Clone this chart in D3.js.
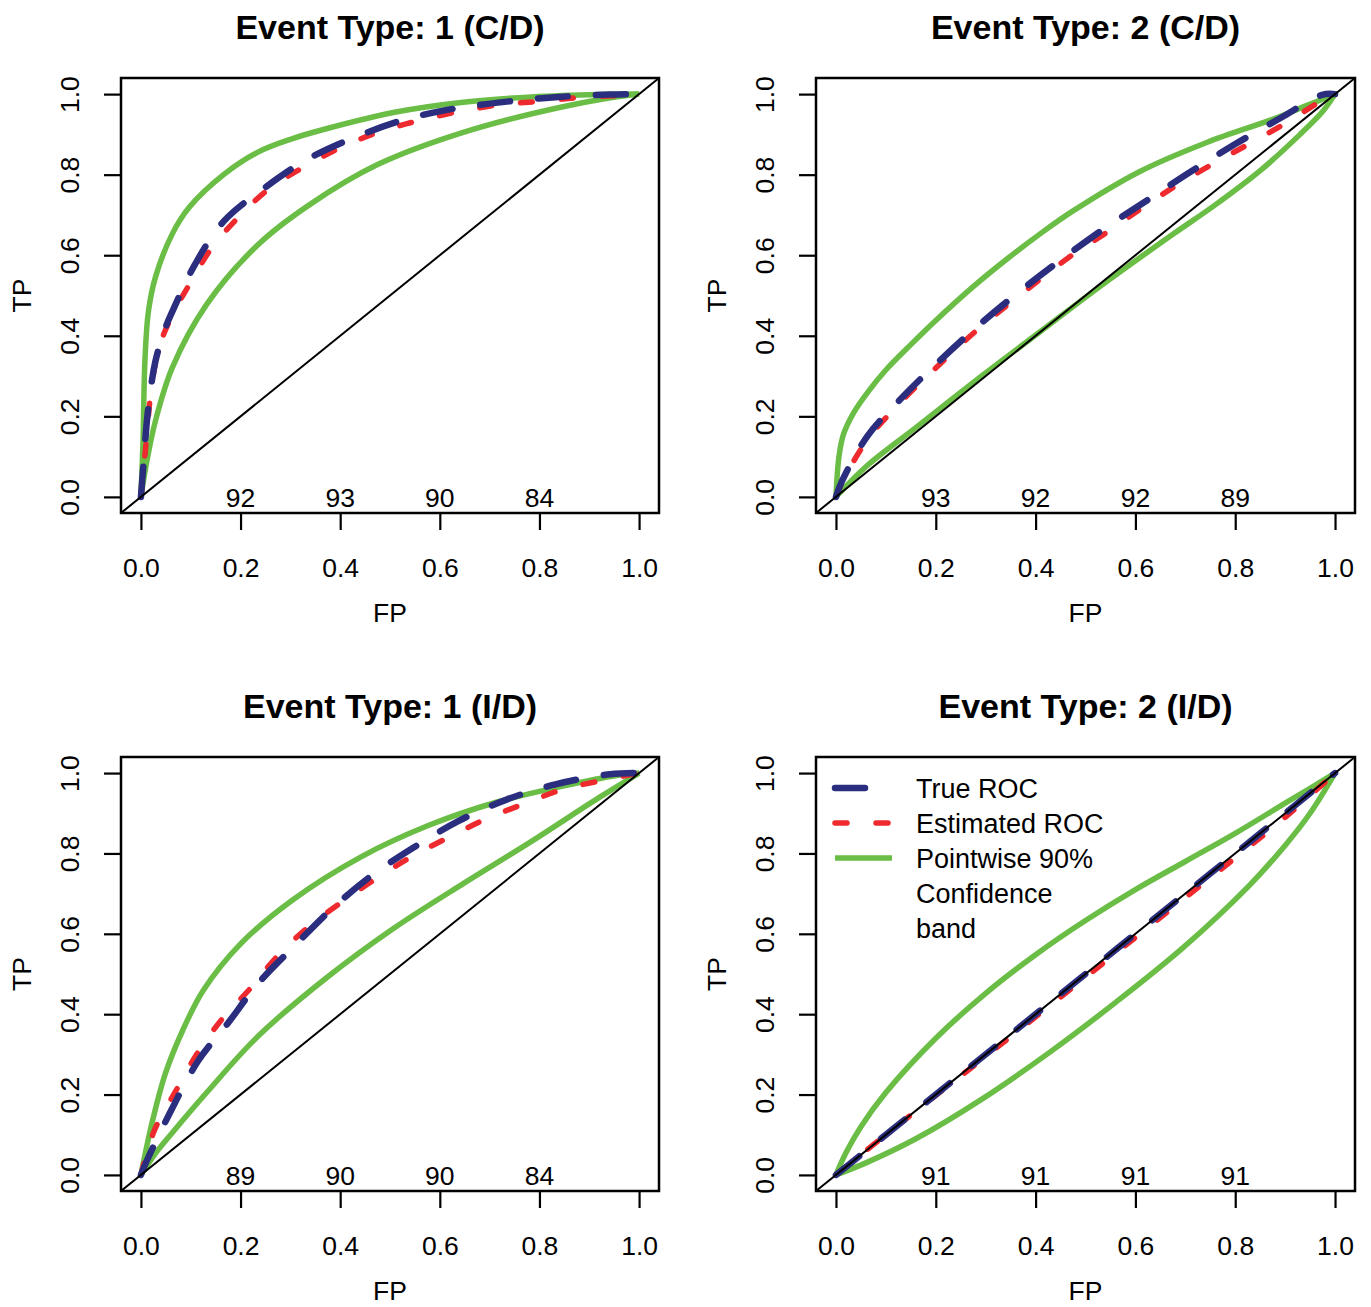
<!DOCTYPE html>
<html>
<head>
<meta charset="utf-8">
<script src="https://cdn.jsdelivr.net/npm/d3@7"></script>
<style>
  body { margin: 0; background: #fff; }
  text { font-family: "Liberation Sans", Arial, Helvetica, sans-serif; fill: #000; }
</style>
</head>
<body>
<script>

// ---- data ----
var titles = ["Event Type: 1 (C/D)", "Event Type: 2 (C/D)", "Event Type: 1 (I/D)", "Event Type: 2 (I/D)"];
var fpTicks = [0, 0.2, 0.4, 0.6, 0.8, 1.0];
var tpTicks = [0, 0.2, 0.4, 0.6, 0.8, 1.0];
var coverageAt = [0.2, 0.4, 0.6, 0.8];
var coverage1 = [92, 93, 90, 84];
var coverage2 = [93, 92, 92, 89];
var coverage3 = [89, 90, 90, 84];
var coverage4 = [91, 91, 91, 91];

// [FP, TP] pairs
var true1 = [[0,0],[0.005,0.079],[0.014,0.212],[0.029,0.336],[0.049,0.419],[0.063,0.46],[0.108,0.576],[0.166,0.684],[0.248,0.767],[0.338,0.841],[0.434,0.895],[0.53,0.937],[0.629,0.964],[0.739,0.982],[0.839,0.993],[0.942,0.999],[1,1]];
var est1 = [[0,0],[0.01,0.129],[0.021,0.27],[0.036,0.369],[0.063,0.452],[0.097,0.527],[0.142,0.618],[0.194,0.692],[0.255,0.763],[0.324,0.817],[0.399,0.866],[0.478,0.906],[0.557,0.934],[0.64,0.957],[0.722,0.974],[0.801,0.982],[0.887,0.992],[0.969,0.997],[1,1]];
var upper1 = [[0,0],[0.004,0.13],[0.008,0.337],[0.015,0.46],[0.029,0.545],[0.063,0.653],[0.097,0.719],[0.166,0.8],[0.235,0.856],[0.303,0.889],[0.372,0.914],[0.509,0.955],[0.647,0.98],[0.784,0.993],[0.921,0.999],[1,1]];
var lower1 = [[0,0],[0.012,0.089],[0.029,0.188],[0.063,0.321],[0.132,0.478],[0.235,0.626],[0.338,0.725],[0.475,0.825],[0.647,0.905],[0.852,0.97],[0.99,0.999],[1,1]];

var true2 = [[0,0],[0.012,0.039],[0.063,0.151],[0.132,0.246],[0.2,0.329],[0.285,0.425],[0.365,0.507],[0.449,0.587],[0.535,0.664],[0.623,0.736],[0.709,0.806],[0.8,0.876],[0.89,0.94],[0.974,0.998],[1,1]];
var est2 = [[0,0],[0.012,0.035],[0.063,0.142],[0.132,0.238],[0.2,0.32],[0.277,0.408],[0.342,0.475],[0.409,0.54],[0.475,0.602],[0.543,0.657],[0.615,0.719],[0.683,0.774],[0.757,0.828],[0.83,0.878],[0.904,0.93],[0.968,0.98],[1,1]];
var upper2 = [[0,0],[0.006,0.1],[0.015,0.155],[0.035,0.208],[0.065,0.262],[0.1,0.315],[0.15,0.378],[0.2,0.438],[0.275,0.522],[0.342,0.59],[0.409,0.653],[0.475,0.71],[0.609,0.808],[0.743,0.88],[0.876,0.938],[0.944,0.972],[1,1]];
var lower2 = [[0,0],[0.06,0.075],[0.16,0.172],[0.294,0.302],[0.409,0.41],[0.543,0.535],[0.675,0.652],[0.76,0.725],[0.85,0.81],[0.93,0.9],[0.976,0.958],[1,1]];

var true3 = [[0,0],[0.012,0.036],[0.058,0.154],[0.115,0.284],[0.173,0.375],[0.235,0.476],[0.309,0.571],[0.384,0.663],[0.463,0.745],[0.549,0.816],[0.638,0.881],[0.734,0.934],[0.832,0.972],[0.942,0.997],[1,1]];
var est3 = [[0,0],[0.027,0.111],[0.07,0.209],[0.113,0.302],[0.161,0.385],[0.218,0.462],[0.275,0.546],[0.338,0.619],[0.401,0.677],[0.469,0.735],[0.542,0.791],[0.619,0.841],[0.693,0.886],[0.77,0.924],[0.846,0.959],[0.927,0.982],[1,1]];
var upper3 = [[0,0],[0.022,0.128],[0.049,0.252],[0.084,0.36],[0.125,0.459],[0.2,0.575],[0.303,0.683],[0.441,0.791],[0.578,0.87],[0.715,0.928],[0.852,0.969],[0.955,0.994],[1,1]];
var lower3 = [[0,0],[0.03,0.055],[0.063,0.105],[0.132,0.205],[0.235,0.345],[0.372,0.49],[0.509,0.615],[0.647,0.725],[0.784,0.83],[0.921,0.94],[1,1]];

var true4 = [[0,0],[0.25,0.25],[0.5,0.5],[0.75,0.75],[1,1]];
var est4 = [[0,0],[0.1,0.1],[0.3,0.295],[0.5,0.492],[0.7,0.69],[0.9,0.89],[1,1]];
var upper4 = [[0,0],[0.02,0.055],[0.05,0.12],[0.1,0.205],[0.2,0.34],[0.3,0.452],[0.4,0.548],[0.5,0.633],[0.6,0.71],[0.7,0.78],[0.8,0.85],[0.9,0.925],[0.95,0.962],[1,1]];
var lower4 = [[0,0],[0.06,0.03],[0.16,0.09],[0.294,0.19],[0.428,0.305],[0.561,0.43],[0.695,0.565],[0.828,0.72],[0.9,0.82],[0.95,0.9],[1,1]];

var legendLabels = ["True ROC", "Estimated ROC", "Pointwise 90%", "Confidence", "band"];

// ---- drawing ----
var green = "#6abd45", navy = "#2b2e7e", red = "#ee2a2e";
var trueDash = "30,28", estDash = "12,29";

var svg = d3.select("body").append("svg")
  .attr("width", 1371)
  .attr("height", 1307);

var panels = [
  { left: 121, top: 78,  w: 538, h: 435, title: titles[0], cov: coverage1, tr: true1, est: est1, up: upper1, lo: lower1 },
  { left: 816, top: 78,  w: 539, h: 435, title: titles[1], cov: coverage2, tr: true2, est: est2, up: upper2, lo: lower2 },
  { left: 121, top: 757, w: 538, h: 434, title: titles[2], cov: coverage3, tr: true3, est: est3, up: upper3, lo: lower3 },
  { left: 816, top: 757, w: 539, h: 434, title: titles[3], cov: coverage4, tr: true4, est: est4, up: upper4, lo: lower4 }
];

panels.forEach(function(p, i) {
  var x = d3.scaleLinear().domain([-0.04, 1.04]).range([p.left, p.left + p.w]);
  var y = d3.scaleLinear().domain([-0.04, 1.04]).range([p.top + p.h, p.top]);
  var g = svg.append("g");

  var line = d3.line()
    .x(function(d) { return x(d[0]); })
    .y(function(d) { return y(d[1]); })
    .curve(d3.curveCatmullRom.alpha(0.5));

  // band
  [p.up, p.lo].forEach(function(s) {
    g.append("path").attr("d", line(s))
      .attr("fill", "none").attr("stroke", green).attr("stroke-width", 5.5);
  });
  // estimated
  g.append("path").attr("d", line(p.est))
    .attr("fill", "none").attr("stroke", red).attr("stroke-width", 5.5)
    .attr("stroke-linecap", "round").attr("stroke-dasharray", estDash);
  // true
  g.append("path").attr("d", line(p.tr))
    .attr("fill", "none").attr("stroke", navy).attr("stroke-width", 6.5)
    .attr("stroke-linecap", "round").attr("stroke-dasharray", trueDash);

  // diagonal
  g.append("line")
    .attr("x1", x(-0.04)).attr("y1", y(-0.04))
    .attr("x2", x(1.04)).attr("y2", y(1.04))
    .attr("stroke", "#000").attr("stroke-width", 2);

  // box
  g.append("rect")
    .attr("x", p.left).attr("y", p.top).attr("width", p.w).attr("height", p.h)
    .attr("fill", "none").attr("stroke", "#000").attr("stroke-width", 2.5);

  // x axis
  var xa = g.append("g")
    .attr("transform", "translate(0," + (p.top + p.h) + ")")
    .call(d3.axisBottom(x).tickValues(fpTicks).tickSize(17).tickPadding(28).tickFormat(d3.format(".1f")));
  xa.select(".domain").remove();
  xa.selectAll("line").attr("stroke-width", 2.2);
  xa.selectAll("text").attr("font-size", 26.5).attr("font-family", null);

  // y axis
  var ya = g.append("g")
    .attr("transform", "translate(" + p.left + ",0)")
    .call(d3.axisLeft(y).tickValues(tpTicks).tickSize(17).tickFormat(d3.format(".1f")));
  ya.select(".domain").remove();
  ya.selectAll("line").attr("stroke-width", 2.2);
  ya.selectAll("text")
    .attr("font-size", 26.5).attr("font-family", null)
    .attr("x", null).attr("dy", null)
    .attr("text-anchor", "middle")
    .attr("transform", "translate(-42,0) rotate(-90)");

  // coverage numbers
  g.selectAll(".cov").data(coverageAt).enter().append("text")
    .attr("x", function(d) { return x(d); })
    .attr("y", y(0) + 10)
    .attr("text-anchor", "middle")
    .attr("font-size", 26.5)
    .text(function(d, k) { return p.cov[k]; });

  // title and axis labels
  g.append("text")
    .attr("x", p.left + p.w / 2).attr("y", p.top - 39)
    .attr("text-anchor", "middle")
    .attr("font-size", 34).attr("font-weight", "bold")
    .text(p.title);
  g.append("text")
    .attr("x", x(0.5)).attr("y", p.top + p.h + 109)
    .attr("text-anchor", "middle").attr("font-size", 26.5)
    .text("FP");
  g.append("text")
    .attr("transform", "translate(" + (p.left - 90) + "," + y(0.5) + ") rotate(-90)")
    .attr("text-anchor", "middle").attr("font-size", 26.5)
    .text("TP");

  // legend in last panel
  if (i === 3) {
    var lx = p.left + 19, ly = p.top + 31;
    var styles = [
      { c: navy, w: 6.5, dash: trueDash },
      { c: red, w: 5.5, dash: estDash },
      { c: green, w: 5.5, dash: null }
    ];
    styles.forEach(function(s, k) {
      g.append("line")
        .attr("x1", lx).attr("x2", lx + 57)
        .attr("y1", ly + k * 35).attr("y2", ly + k * 35)
        .attr("stroke", s.c).attr("stroke-width", s.w)
        .attr("stroke-linecap", s.dash ? "round" : "butt")
        .attr("stroke-dasharray", s.dash);
    });
    g.selectAll(".leg").data(legendLabels).enter().append("text")
      .attr("x", lx + 81)
      .attr("y", function(d, k) { return ly + 10 + k * 35; })
      .attr("font-size", 27)
      .text(function(d) { return d; });
  }
});

</script>
</body>
</html>
